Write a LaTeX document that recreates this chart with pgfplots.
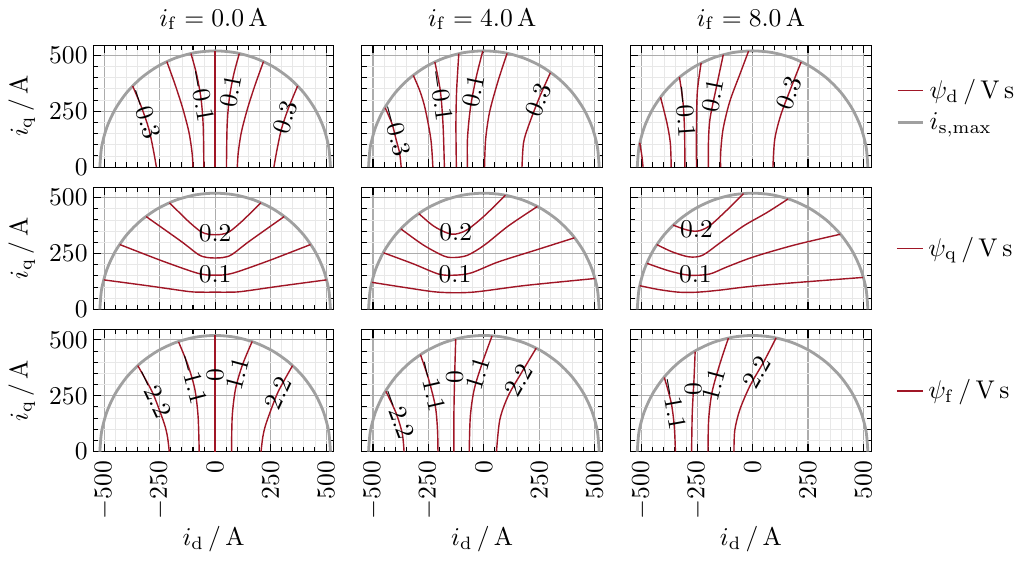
\documentclass[border=0pt]{standalone}
\usepackage{pgfplots}
\pgfplotsset{compat=1.18}
\usepgfplotslibrary{groupplots}
\definecolor{fluxred}{RGB}{160,22,38}
\definecolor{circgray}{RGB}{160,160,160}

\pgfplotsset{
  cl/.style={fluxred, line width=0.55pt, smooth, forget plot},
  circ/.style={circgray, line width=1.1pt, smooth, forget plot},
}
\tikzset{lbl/.style={inner sep=0pt}}

% current limit semicircle, r = 520 A
\pgfplotstableread{
x y
-520 0
-512.1 90.3
-488.6 177.9
-450.3 260
-398.3 334.2
-334.2 398.3
-260 450.3
-177.9 488.6
-90.3 512.1
0 520
90.3 512.1
177.9 488.6
260 450.3
334.2 398.3
398.3 334.2
450.3 260
488.6 177.9
512.1 90.3
520 0
}\circdata

\begin{document}
\begin{tikzpicture}
\begin{groupplot}[
  group style={group size=3 by 3, horizontal sep=11pt, vertical sep=8pt,
    xticklabels at=edge bottom, yticklabels at=edge left,
    xlabels at=edge bottom, ylabels at=edge left},
  width=94pt, height=47.6pt, scale only axis,
  xmin=-550, xmax=535, ymin=0, ymax=545,
  xtick={-500,-250,0,250,500}, ytick={0,250,500},
  minor x tick num=4, minor y tick num=4,
  grid=both,
  major grid style={gray!65, line width=0.4pt},
  minor grid style={gray!18, line width=0.3pt},
  tick align=inside, major tick length=3pt, minor tick length=1.8pt,
  tick style={black, line width=0.4pt},
  x tick label style={rotate=90, anchor=east},
  y tick label style={inner xsep=2pt},
  xlabel={$i_\mathrm{d}\,/\,\mathrm{A}$},
  ylabel={$i_\mathrm{q}\,/\,\mathrm{A}$},
  xlabel style={yshift=4pt},
  title style={yshift=-3.5pt},
  legend style={draw=none, fill=none, at={(1.07,0.5)}, anchor=west, row sep=0pt},
  legend cell align=left,
  legend image code/.code={\draw[#1] (0pt,0pt) -- (10pt,0pt);},
]

%% row 1: psi_d
\nextgroupplot[title={$i_\mathrm{f} = 0.0\,\mathrm{A}$}]
\addplot[circ] table {\circdata};
\addplot[cl] coordinates {(-372,363) (-330,262) (-299,170) (-279,78) (-265,0)};
\addplot[cl] coordinates {(-218,472) (-181,370) (-146,262) (-118,155) (-104,63) (-100,0)};
\addplot[cl] coordinates {(-109,508) (-84,416) (-64,308) (-54,186) (-51,0)};
\addplot[cl] coordinates {(0,520) (0,0)};
\addplot[cl] coordinates {(109,508) (84,416) (64,308) (54,186) (51,0)};
\addplot[cl] coordinates {(218,472) (181,370) (146,262) (118,155) (104,63) (100,0)};
\addplot[cl] coordinates {(372,363) (330,262) (299,170) (279,78) (265,0)};
\node[lbl, rotate=-72] at (axis cs:-322,239) {$-0.3$};
\node[lbl, rotate=-80] at (axis cs:-66,320) {$-0.1$};
\node[lbl, rotate=79] at (axis cs:70,340) {$0.1$};
\node[lbl, rotate=72] at (axis cs:315,224) {$0.3$};

\nextgroupplot[title={$i_\mathrm{f} = 4.0\,\mathrm{A}$}]
\addplot[circ] table {\circdata};
\addplot[cl] coordinates {(-445,265) (-414,193) (-396,124) (-380,63) (-373,0)};
\addplot[cl] coordinates {(-318,410) (-288,339) (-265,262) (-239,124) (-230,0)};
\addplot[cl] coordinates {(-221,470) (-196,339) (-184,186) (-178,0)};
\addplot[cl] coordinates {(-113,508) (-123,339) (-126,186) (-124,0)};
\addplot[cl] coordinates {(-5,519) (-35,400) (-61,262) (-74,124) (-74,0)};
\addplot[cl] coordinates {(105,509) (64,385) (26,247) (8,124) (3,0)};
\addplot[cl] coordinates {(300,422) (249,308) (202,186) (179,109) (172,0)};
\node[lbl, rotate=-75] at (axis cs:-402,165) {$-0.3$};
\node[lbl, rotate=-82] at (axis cs:-198,320) {$-0.1$};
\node[lbl, rotate=78] at (axis cs:-48,340) {$0.1$};
\node[lbl, rotate=68] at (axis cs:245,300) {$0.3$};

\nextgroupplot[title={$i_\mathrm{f} = 8.0\,\mathrm{A}$}]
\addlegendimage{fluxred, line width=0.6pt}
\addlegendentry{$\psi_\mathrm{d}\,/\,\mathrm{V\,s}$}
\addlegendimage{circgray, line width=1.1pt}
\addlegendentry{$i_\mathrm{s,max}$}
\addplot[circ] table {\circdata};
\addplot[cl] coordinates {(-509,109) (-499,48) (-494,0)};
\addplot[cl] coordinates {(-415,312) (-387,201) (-371,109) (-367,0)};
\addplot[cl] coordinates {(-330,403) (-314,293) (-307,170) (-305,0)};
\addplot[cl] coordinates {(-232,466) (-249,339) (-253,186) (-253,0)};
\addplot[cl] coordinates {(-132,503) (-164,354) (-192,216) (-199,109) (-199,0)};
\addplot[cl] coordinates {(-18,519) (-57,416) (-103,293) (-133,170) (-144,63) (-144,0)};
\addplot[cl] coordinates {(219,470) (173,354) (127,232) (100,124) (92,0)};
\node[lbl, rotate=-86] at (axis cs:-309,250) {$-0.1$};
\node[lbl, rotate=79] at (axis cs:-180,320) {$0.1$};
\node[lbl, rotate=69] at (axis cs:163,330) {$0.3$};

%% row 2: psi_q
\nextgroupplot
\addplot[circ] table {\circdata};
\addplot[cl] coordinates {(-502,132) (-291,104) (-120,80) (-60,77) (0,77) (60,77) (120,80) (291,104) (502,132)};
\addplot[cl] coordinates {(-430,290) (-245,219) (-100,168) (-45,155) (0,153) (45,155) (100,168) (245,219) (430,290)};
\addplot[cl] coordinates {(-311,415) (-153,304) (-75,245) (-35,232) (0,230) (35,232) (75,245) (153,304) (311,415)};
\addplot[cl] coordinates {(-206,477) (-123,396) (-65,348) (-30,336) (0,334) (30,336) (65,348) (123,396) (206,477)};
\node[lbl] at (axis cs:0,341) {$0.2$};
\node[lbl] at (axis cs:0,158) {$0.1$};

\nextgroupplot
\addplot[circ] table {\circdata};
\addplot[cl] coordinates {(-505,121) (-350,97) (-204,77) (-51,77) (187,107) (500,138)};
\addplot[cl] coordinates {(-452,253) (-319,204) (-204,158) (-135,153) (-58,163) (64,212) (233,265) (408,320)};
\addplot[cl] coordinates {(-374,360) (-273,288) (-181,239) (-135,232) (-74,242) (3,288) (110,373) (241,460)};
\addplot[cl] coordinates {(-293,428) (-227,373) (-166,342) (-127,337) (-74,357) (3,419) (97,511)};
\node[lbl] at (axis cs:-127,345) {$0.2$};
\node[lbl] at (axis cs:-130,158) {$0.1$};

\nextgroupplot
\addlegendimage{fluxred, line width=0.6pt}
\addlegendentry{$\psi_\mathrm{q}\,/\,\mathrm{V\,s}$}
\addplot[circ] table {\circdata};
\addplot[cl] coordinates {(-509,106) (-425,89) (-333,77) (-249,77) (-149,86) (35,107) (498,143)};
\addplot[cl] coordinates {(-476,206) (-379,173) (-287,153) (-195,158) (-118,189) (5,235) (189,288) (395,336)};
\addplot[cl] coordinates {(-432,290) (-364,258) (-287,235) (-226,242) (-149,296) (-41,373) (66,434) (160,494)};
\addplot[cl] coordinates {(-358,377) (-302,357) (-249,350) (-195,373) (-118,442) (-41,518)};
\node[lbl] at (axis cs:-253,360) {$0.2$};
\node[lbl] at (axis cs:-258,158) {$0.1$};

%% row 3: psi_f
\nextgroupplot
\addplot[circ] table {\circdata};
\addplot[cl] coordinates {(-349,385) (-307,311) (-276,250) (-230,127) (-215,66) (-207,0)};
\addplot[cl] coordinates {(-165,491) (-123,388) (-92,281) (-77,158) (-72,0)};
\addplot[cl] coordinates {(0,520) (0,0)};
\addplot[cl] coordinates {(167,493) (123,388) (92,281) (77,158) (74,0)};
\addplot[cl] coordinates {(349,385) (307,311) (276,250) (230,127) (215,66) (207,0)};
\node[lbl, rotate=-65] at (axis cs:-283,262) {$-2.2$};
\node[lbl, rotate=-75] at (axis cs:-106,327) {$-1.1$};
\node[lbl, rotate=90] at (axis cs:0,342) {$0$};
\node[lbl, rotate=75] at (axis cs:100,350) {$1.1$};
\node[lbl, rotate=65] at (axis cs:283,262) {$2.2$};

\nextgroupplot
\addplot[circ] table {\circdata};
\addplot[cl] coordinates {(-442,270) (-396,173) (-368,81) (-360,0)};
\addplot[cl] coordinates {(-286,434) (-250,327) (-219,204) (-209,97) (-207,0)};
\addplot[cl] coordinates {(-127,504) (-132,327) (-135,173) (-135,0)};
\addplot[cl] coordinates {(37,518) (-5,403) (-43,281) (-61,158) (-66,0)};
\addplot[cl] coordinates {(236,463) (172,357) (110,250) (72,143) (57,0)};
\node[lbl, rotate=-70] at (axis cs:-392,170) {$-2.2$};
\node[lbl, rotate=-77] at (axis cs:-240,296) {$-1.1$};
\node[lbl, rotate=90] at (axis cs:-132,334) {$0$};
\node[lbl, rotate=73] at (axis cs:-28,350) {$1.1$};
\node[lbl, rotate=60] at (axis cs:156,320) {$2.2$};

\nextgroupplot
\addlegendimage{fluxred, line width=0.6pt}
\addlegendentry{$\psi_\mathrm{f}\,/\,\mathrm{V\,s}$}
\addplot[circ] table {\circdata};
\addplot[cl] coordinates {(-398,332) (-367,219) (-353,112) (-348,0)};
\addplot[cl] coordinates {(-259,448) (-264,327) (-272,173) (-275,0)};
\addplot[cl] coordinates {(-109,508) (-149,388) (-183,265) (-198,143) (-201,0)};
\addplot[cl] coordinates {(106,509) (51,403) (-11,296) (-57,189) (-80,97) (-84,0)};
\node[lbl, rotate=-80] at (axis cs:-362,215) {$-1.1$};
\node[lbl, rotate=90] at (axis cs:-268,278) {$0$};
\node[lbl, rotate=75] at (axis cs:-176,300) {$1.1$};
\node[lbl, rotate=60] at (axis cs:18,355) {$2.2$};
\end{groupplot}
\end{tikzpicture}
\end{document}
